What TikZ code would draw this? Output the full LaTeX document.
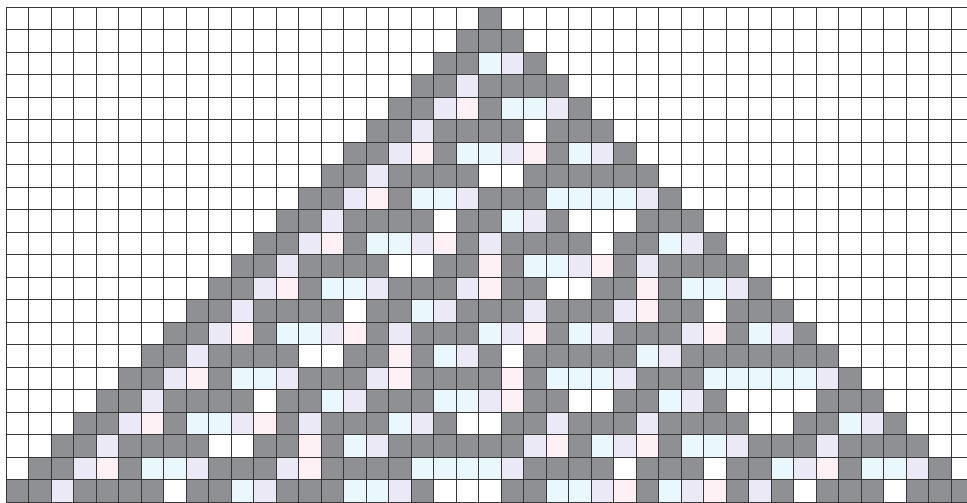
\documentclass[tikz,border=0pt]{standalone}
\usepackage{tikz}
\definecolor{cg}{RGB}{143,144,148}
\definecolor{cb}{RGB}{234,247,253}
\definecolor{cl}{RGB}{235,233,246}
\definecolor{cp}{RGB}{253,241,246}
\definecolor{cw}{RGB}{255,255,255}
\definecolor{gl}{RGB}{55,55,58}
\tikzset{gridline/.style={draw=gl,line width=0.8pt}}
\def\st#1#2{\ifcsname s-#1-#2\endcsname\csname s-#1-#2\endcsname\else0\fi}
\begin{document}
\begin{tikzpicture}[x=1pt,y=-1pt]
\useasboundingbox (0,0) rectangle (967,503);
\fill[white] (0,0) rectangle (967,503);
\clip (0,0) rectangle (967,503);
\expandafter\xdef\csname s-0-21\endcsname{1}
\fill[cg] (6+22.5*21,7.3) rectangle ++(22.5,22.5);
\foreach \r in {1,...,21}{
  \foreach \c in {0,...,42}{
    \pgfmathtruncatemacro\pr{\r-1}
    \pgfmathtruncatemacro\cL{\c-1}
    \pgfmathtruncatemacro\cR{\c+1}
    \edef\vL{\st{\pr}{\cL}}
    \edef\vM{\st{\pr}{\c}}
    \edef\vR{\st{\pr}{\cR}}
    \pgfmathtruncatemacro\code{4*\vL+2*\vM+\vR}
    \edef\nv{\ifnum\code>0 \ifnum\code<5 1\else 0\fi\else 0\fi}
    \expandafter\xdef\csname s-\r-\c\endcsname{\nv}
    \edef\col{\ifcase\code cw\or cg\or cg\or cg\or cg\or cp\or cl\or cb\fi}
    \fill[\col] (6+22.5*\c,7.3+22.5*\r) rectangle ++(22.5,22.5);
  }
}
\foreach \c in {0,...,43}{
  \draw[gridline] (6+22.5*\c,7.3) -- (6+22.5*\c,503);
}
\foreach \r in {0,...,22}{
  \draw[gridline] (6,7.3+22.5*\r) -- (967,7.3+22.5*\r);
}
\end{tikzpicture}
\end{document}
